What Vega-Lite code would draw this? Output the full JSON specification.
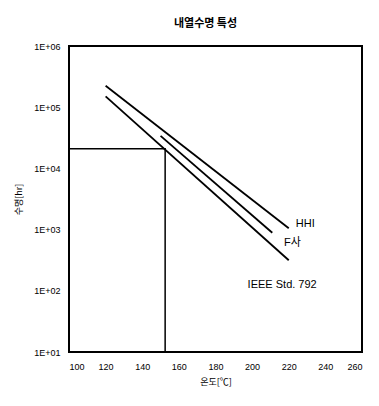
{
  "$schema": "https://vega.github.io/schema/vega-lite/v6.json",
  "width": 293,
  "height": 306,
  "autosize": {"type": "none"},
  "padding": {"left": 69, "top": 46, "right": 17, "bottom": 54},
  "background": "white",
  "title": {
    "text": "내열수명 특성",
    "font": "Noto Sans CJK KR",
    "fontSize": 11,
    "fontWeight": "bold",
    "color": "black",
    "offset": 13,
    "dx": -10
  },
  "config": {
    "view": {"stroke": "black", "strokeWidth": 2},
    "axis": {
      "grid": false,
      "domain": false,
      "ticks": false,
      "labelOverlap": false,
      "labelColor": "black",
      "titleColor": "black",
      "labelFont": "Liberation Sans",
      "labelFontSize": 9,
      "titleFont": "Noto Sans CJK KR",
      "titleFontSize": 9,
      "titleFontWeight": "normal"
    }
  },
  "datasets": {
    "curves": [
      {"series": "HHI", "temp": 120, "life": 224000},
      {"series": "HHI", "temp": 220, "life": 1050},
      {"series": "F사", "temp": 150, "life": 34000},
      {"series": "F사", "temp": 211, "life": 890},
      {"series": "IEEE", "temp": 120, "life": 150000},
      {"series": "IEEE", "temp": 220, "life": 316}
    ],
    "guide": [
      {"order": 1, "temp": 100, "life": 21000},
      {"order": 2, "temp": 152.5, "life": 21000},
      {"order": 3, "temp": 152.5, "life": 10}
    ],
    "labels": [
      {"text": "HHI", "temp": 229, "life": 1216},
      {"text": "F사", "temp": 222, "life": 596},
      {"text": "IEEE Std. 792", "temp": 216.4, "life": 123}
    ]
  },
  "encoding": {
    "x": {
      "field": "temp",
      "type": "quantitative",
      "scale": {"domain": [100, 260], "nice": false, "zero": false},
      "axis": {
        "values": [100, 120, 140, 160, 180, 200, 220, 240, 260],
        "labelOverlap": false,
        "title": "온도[℃]",
        "labelPadding": 10,
        "titlePadding": 6
      }
    },
    "y": {
      "field": "life",
      "type": "quantitative",
      "scale": {"type": "log", "domain": [10, 1000000], "nice": false},
      "axis": {
        "values": [10, 100, 1000, 10000, 100000, 1000000],
        "labelOverlap": false,
        "labelExpr": "'1E+0' + round(log(datum.value)/LN10)",
        "title": "수명[hr]",
        "labelPadding": 9,
        "titlePadding": 10
      }
    }
  },
  "layer": [
    {
      "data": {"name": "curves"},
      "mark": {"type": "line", "color": "black", "strokeWidth": 1.8},
      "encoding": {"detail": {"field": "series"}}
    },
    {
      "data": {"name": "guide"},
      "mark": {"type": "line", "color": "black", "strokeWidth": 1.5},
      "encoding": {"order": {"field": "order"}}
    },
    {
      "data": {"name": "labels"},
      "mark": {"type": "text", "color": "black", "fontSize": 11, "font": "Liberation Sans, Noto Sans CJK KR", "baseline": "middle", "align": "center"},
      "encoding": {"text": {"field": "text"}}
    }
  ]
}
